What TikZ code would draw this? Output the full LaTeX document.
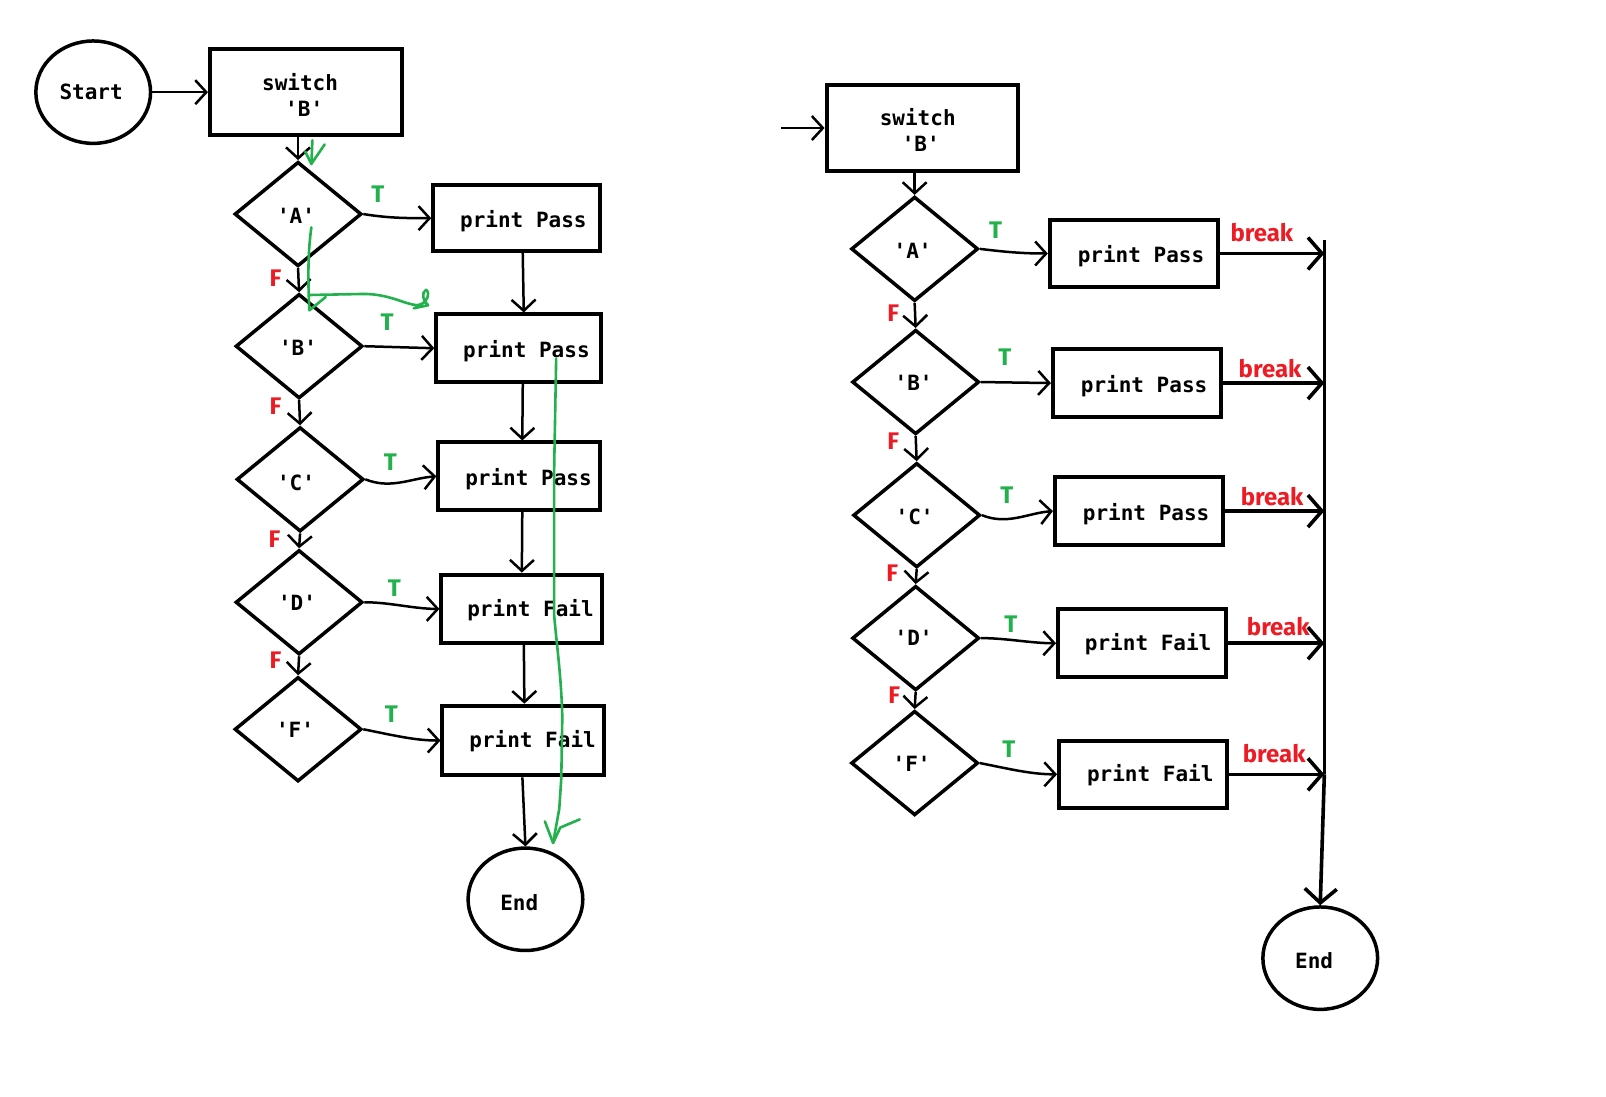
\documentclass[tikz,border=0pt]{standalone}
\usepackage{fontspec}
\setmonofont{DejaVu Sans Mono}
\newfontfamily\lblfont{Fira Sans}
\usetikzlibrary{shapes.geometric,arrows.meta}
\definecolor{pred}{RGB}{237,28,36}
\definecolor{pgreen}{RGB}{34,177,76}
\begin{document}
\begin{tikzpicture}[x=1.0242pt,y=-1.0242pt,
  bx/.style 2 args={draw,rectangle,line width=4pt,inner sep=0pt,minimum width=#1*1.0242pt,minimum height=#2*1.0242pt},
  dia/.style={draw,diamond,line width=3.5pt,inner sep=0pt,minimum width=127pt,minimum height=104.5pt},
  term/.style={draw,ellipse,line width=3.5pt,inner sep=0pt,minimum width=114.7pt,minimum height=102.4pt},
  lbl/.style={font=\ttfamily\bfseries\fontsize{21}{25}\selectfont,inner sep=0pt,text height=15.3pt,text depth=0pt},
  tlab/.style={text=pgreen,font=\lblfont\bfseries\fontsize{24}{28}\selectfont,inner sep=0pt,text height=16.5pt,text depth=0pt},
  flab/.style={text=pred,font=\lblfont\bfseries\fontsize{24}{28}\selectfont,inner sep=0pt,text height=16.5pt,text depth=0pt},
  brk/.style={text=pred,font=\lblfont\bfseries\fontsize{24}{28}\selectfont,inner sep=0pt,text height=17.5pt,text depth=0pt},
  arr/.style={-{Straight Barb[length=11pt,width=24pt]},line width=2.5pt},
  barr/.style={-{Straight Barb[length=14pt,width=32pt]},line width=3.6pt},
  grn/.style={draw=pgreen,line width=2.6pt,line cap=round,line join=round}
]
\fill[white] (0,0) rectangle (1568,1071);
\useasboundingbox (0,0) rectangle (1568,1071);

% ---------------- left chart ----------------
\node[term] (start) at (91,90) {};
\node[lbl] (tstart) at (89,90) {Start};
\node[bx={187}{84}] (sw1) at (298.5,90) {};
\node[lbl] (tsw1a) at (293,81) {switch};
\node[lbl] (tsw1b) at (297,106) {'B'};

\node[dia] (dA) at (291,209) {};
\node[dia] (dB) at (292,338) {};
\node[dia] (dC) at (293,468) {};
\node[dia] (dD) at (292,588) {};
\node[dia] (dF) at (291,712) {};
\node[lbl] (tdA) at (289,211) {'A'};
\node[lbl] (tdB) at (291,340) {'B'};
\node[lbl] (tdC) at (289,471) {'C'};
\node[lbl] (tdD) at (290,589) {'D'};
\node[lbl] (tdF) at (288,713) {'F'};

\node[bx={163}{64}] (p1) at (504.5,213) {};
\node[bx={161}{66}] (p2) at (506.5,340) {};
\node[bx={158}{66}] (p3) at (507,465) {};
\node[bx={157}{67}] (p4) at (509.5,594.5) {};
\node[bx={158}{68}] (p5) at (511,723) {};
\node[lbl] (tp1) at (511,215) {print Pass};
\node[lbl] (tp2) at (514,342) {print Pass};
\node[lbl] (tp3) at (516,467) {print Pass};
\node[lbl] (tp4) at (518,594) {print Fail};
\node[lbl] (tp5) at (520,722) {print Fail};

\node[term] (end1) at (513,878) {};
\node[lbl] (tend1) at (507,881) {End};

\node[tlab] (lt1) at (369,190) {T};
\node[tlab] (lt2) at (378,315) {T};
\node[tlab] (lt3) at (381,451) {T};
\node[tlab] (lt4) at (385,574) {T};
\node[tlab] (lt5) at (382,697) {T};
\node[flab] (lf1) at (269,272) {F};
\node[flab] (lf2) at (269,397) {F};
\node[flab] (lf3) at (268,526) {F};
\node[flab] (lf4) at (269,645) {F};

\draw[arr] (start.east) -- (sw1.west);
\draw[arr] (dA.north |- sw1.south) -- (dA.north);
\draw[arr] (dA.south) -- (dB.north);
\draw[arr] (dB.south) -- (dC.north);
\draw[arr] (dC.south) -- (dD.north);
\draw[arr] (dD.south) -- (dF.north);
\draw[arr] (dA.east) .. controls +(25,4) and +(-25,0) .. (p1.west);
\draw[arr] (dB.east) -- (p2.west);
\draw[arr] (dC.east) .. controls +(25,10) and +(-25,2) .. (p3.west);
\draw[arr] (dD.east) .. controls +(25,0) and +(-25,0) .. (p4.west);
\draw[arr] (dF.east) .. controls +(30,6) and +(-25,0) .. (p5.west);
\draw[arr] ([xshift=6pt]p1.south) -- ([xshift=5pt]p2.north);
\draw[arr] ([xshift=4pt]p2.south) -- ([xshift=3pt]p3.north);
\draw[arr] ([xshift=3pt]p3.south) -- ([xshift=0pt]p4.north);
\draw[arr] ([xshift=2pt]p4.south) -- ([xshift=1pt]p5.north);
\draw[arr] ([xshift=-1pt]p5.south) -- (end1.north);

% green annotation
\draw[grn] (305,137) -- (304,160);
\draw[grn] (298,148) -- (304,160) -- (317,141);
\draw[grn] (304,222) .. controls (300,250) and (301,280) .. (302,303) -- (318,290);
\draw[grn] (303,288) -- (355,287) .. controls (380,287) and (395,297) .. (407,298)
  .. controls (418,297) and (420,285) .. (416,283) .. controls (411,285) and (413,295) .. (418,298)
  -- (404,301);
\draw[grn] (543,350) -- (541,460) -- (541,600) .. controls (543,625) and (548,660) .. (549,700)
  -- (548,760) -- (546,790) -- (540,823);
\draw[grn] (532,802) -- (540,823) -- (547,808) -- (566,800);

% ---------------- right chart ----------------
\coordinate (in2) at (763,125);
\node[bx={187}{84}] (sw2) at (900.5,125) {};
\node[lbl] (tsw2a) at (896,115) {switch};
\node[lbl] (tsw2b) at (899,140) {'B'};

\node[dia] (eA) at (893,243) {};
\node[dia] (eB) at (894,373) {};
\node[dia] (eC) at (895,503) {};
\node[dia] (eD) at (894,623) {};
\node[dia] (eF) at (893,745) {};
\node[lbl] (teA) at (891,245) {'A'};
\node[lbl] (teB) at (892,374) {'B'};
\node[lbl] (teC) at (893,505) {'C'};
\node[lbl] (teD) at (892,623) {'D'};
\node[lbl] (teF) at (890,746) {'F'};

\node[bx={164}{65}] (q1) at (1107,247.5) {};
\node[bx={164}{66}] (q2) at (1110,374) {};
\node[bx={164}{66}] (q3) at (1112,499) {};
\node[bx={164}{66}] (q4) at (1115,628) {};
\node[bx={164}{66}] (q5) at (1116,756) {};
\node[lbl] (tq1) at (1114,249) {print Pass};
\node[lbl] (tq2) at (1117,376) {print Pass};
\node[lbl] (tq3) at (1119,501) {print Pass};
\node[lbl] (tq4) at (1121,628) {print Fail};
\node[lbl] (tq5) at (1123,756) {print Fail};

\node[term] (end2) at (1289,935.5) {};
\node[lbl] (tend2) at (1283,938) {End};

\node[tlab] (rt1) at (972,225) {T};
\node[tlab] (rt2) at (981,349) {T};
\node[tlab] (rt3) at (983,484) {T};
\node[tlab] (rt4) at (987,609) {T};
\node[tlab] (rt5) at (985,732) {T};
\node[flab] (rf1) at (872,306) {F};
\node[flab] (rf2) at (872,431) {F};
\node[flab] (rf3) at (871,560) {F};
\node[flab] (rf4) at (873,679) {F};
\node[brk] (b1) at (1232,227) {break};
\node[brk] (b2) at (1240,360) {break};
\node[brk] (b3) at (1242,485) {break};
\node[brk] (b4) at (1248,612) {break};
\node[brk] (b5) at (1244,736) {break};

\coordinate (vx) at (1293,234);

\draw[arr] (in2) -- (sw2.west);
\draw[arr] (eA.north |- sw2.south) -- (eA.north);
\draw[arr] (eA.south) -- (eB.north);
\draw[arr] (eB.south) -- (eC.north);
\draw[arr] (eC.south) -- (eD.north);
\draw[arr] (eD.south) -- (eF.north);
\draw[arr] (eA.east) .. controls +(25,3) and +(-25,0) .. (q1.west);
\draw[arr] (eB.east) -- (q2.west);
\draw[arr] (eC.east) .. controls +(25,10) and +(-25,2) .. (q3.west);
\draw[arr] (eD.east) .. controls +(25,0) and +(-25,0) .. (q4.west);
\draw[arr] (eF.east) .. controls +(30,6) and +(-25,0) .. (q5.west);

\draw[line width=3.6pt] (vx) -- (vx |- q5.east);
\draw[barr] (vx |- q5.east) -- (end2.north);
\draw[barr] (q1.east) -- (q1.east -| vx);
\draw[barr] (q2.east) -- (q2.east -| vx);
\draw[barr] (q3.east) -- (q3.east -| vx);
\draw[barr] (q4.east) -- (q4.east -| vx);
\draw[barr] (q5.east) -- (q5.east -| vx);
\end{tikzpicture}
\end{document}
